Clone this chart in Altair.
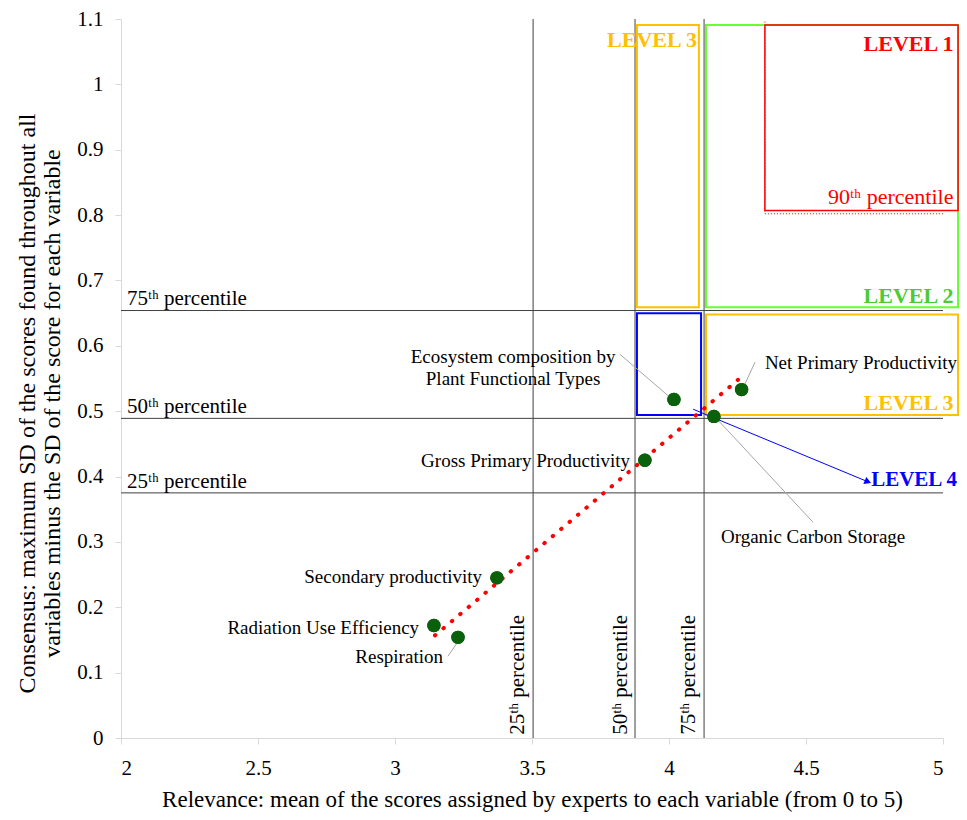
import altair as alt
import pandas as pd

FONT = "Liberation Serif"

# ---- data ----
var_names = ["Radiation Use Efficiency", "Respiration", "Secondary productivity",
             "Gross Primary Productivity", "Ecosystem composition by Plant Functional Types",
             "Organic Carbon Storage", "Net Primary Productivity"]
relevance = [3.142, 3.230, 3.372, 3.912, 4.018, 4.164, 4.265]
consensus = [0.172, 0.154, 0.245, 0.425, 0.518, 0.492, 0.533]

# percentile lines
x_pct_vals = [3.504, 3.876, 4.128]
x_pct_labels = ["25ᵗʰ percentile", "50ᵗʰ percentile", "75ᵗʰ percentile"]
x_pct_label_x = [3.449, 3.825, 4.073]
y_pct_vals = [0.375, 0.489, 0.654]
y_pct_labels = ["25ᵗʰ percentile", "50ᵗʰ percentile", "75ᵗʰ percentile"]
y_pct_label_y = [0.392, 0.506, 0.671]

# trend line endpoints
trend_x = [3.146, 4.252]
trend_y = [0.157, 0.548]

# level boxes
box_x = [3.883, 3.883, 4.135, 4.135, 4.350]
box_x2 = [4.109, 4.117, 5.055, 5.055, 5.055]
box_y = [1.091, 0.650, 1.091, 0.648, 1.091]
box_y2 = [0.659, 0.494, 0.659, 0.494, 0.807]
box_color = ["#FFC000", "#0000FF", "#66FF33", "#FFC000", "#FF0000"]
box_width = [2, 2, 2, 2, 1.5]

# 90th percentile dotted lines
p90_x = [4.350, 4.350]
p90_x2 = [4.350, 5.0]
p90_y = [1.096, 0.802]
p90_y2 = [0.802, 0.802]

# level labels (right aligned)
lvl_text = ["LEVEL 1", "LEVEL 2", "LEVEL 3"]
lvl_x = [5.038, 5.038, 5.038]
lvl_y = [1.062, 0.676, 0.513]
lvl_color = ["#FF0000", "#4CCC33", "#FFC000"]
lvl4_text = ["LEVEL 4"]
lvl4_x = [5.051]
lvl4_y = [0.395]
lvl4_color = ["#0000FF"]
top_lvl_text = ["LEVEL 3"]
top_lvl_x = [3.938]
top_lvl_y = [1.068]
top_lvl_color = ["#FFC000"]
p90_text = ["90ᵗʰ percentile"]
p90_tx = [5.038]
p90_ty = [0.828]

# arrow
arrow_x = [4.088]
arrow_y = [0.503]
arrow_x2 = [4.726]
arrow_y2 = [0.392]

# leader lines
lead_x = [3.821, 4.314, 4.164, 3.193]
lead_y = [0.587, 0.575, 0.493, 0.125]
lead_x2 = [4.007, 4.270, 4.526, 3.226]
lead_y2 = [0.520, 0.535, 0.330, 0.145]

# point labels
lab_right_text = ["Radiation Use Efficiency", "Respiration", "Secondary productivity",
                  "Gross Primary Productivity"]
lab_right_x = [3.088, 3.175, 3.318, 3.858]
lab_right_y = [0.169, 0.124, 0.246, 0.424]
lab_center_text = [["Ecosystem composition by", "Plant Functional Types"], ["Organic Carbon Storage"]]
lab_center_x = [3.431, 4.526]
lab_center_y = [0.583, 0.307]
lab_left_text = ["Net Primary Productivity"]
lab_left_x = [4.350]
lab_left_y = [0.574]

x_ticks = [2, 2.5, 3, 3.5, 4, 4.5, 5]
y_ticks = [0, 0.1, 0.2, 0.3, 0.4, 0.5, 0.6, 0.7, 0.8, 0.9, 1, 1.1]

# ---- scales / axes ----
xs = alt.Scale(domain=[2, 5], nice=False, zero=False)
ys = alt.Scale(domain=[0, 1.1], nice=False, zero=False)
xaxis = alt.Axis(values=x_ticks, format="~g",
                 title="Relevance: mean of the scores assigned by experts to each variable (from 0 to 5)",
                 grid=False, tickSize=6, labelPadding=13, titlePadding=10, titleFontSize=23)
yaxis = alt.Axis(values=y_ticks, format="~g",
                 title=["Consensus: maximum SD of the scores found throughout all",
                        "variables minus the SD of the score for each variable"],
                 grid=False, tickSize=6, labelPadding=12, titlePadding=12, titleFontSize=24,
                 titleLineHeight=25, titleY=384)


def X(f):
    return alt.X(f, type="quantitative", scale=xs, axis=xaxis)


def Y(f):
    return alt.Y(f, type="quantitative", scale=ys, axis=yaxis)


pts = pd.DataFrame({"name": var_names, "x": relevance, "y": consensus})

vrules = alt.Chart(pd.DataFrame({"x": x_pct_vals})).mark_rule(color="#404040", strokeWidth=1).encode(x=X("x"))
hrules = alt.Chart(pd.DataFrame({"y": y_pct_vals})).mark_rule(color="#404040", strokeWidth=1).encode(y=Y("y"))

vlabels = alt.Chart(pd.DataFrame({"x": x_pct_label_x, "t": x_pct_labels, "y": [0.005] * 3})).mark_text(
    angle=270, align="left", baseline="middle", font=FONT, fontSize=21, color="black"
).encode(x=X("x"), y=Y("y"), text="t")
hlabels = alt.Chart(pd.DataFrame({"y": y_pct_label_y, "t": y_pct_labels, "x": [2.022] * 3})).mark_text(
    align="left", baseline="middle", font=FONT, fontSize=21, color="black"
).encode(x=X("x"), y=Y("y"), text="t")

boxes = alt.Chart(pd.DataFrame({"x": box_x, "x2": box_x2, "y": box_y, "y2": box_y2,
                                "c": box_color, "w": box_width})).mark_rect(fillOpacity=0).encode(
    x=X("x"), x2="x2", y=Y("y"), y2="y2",
    stroke=alt.Stroke("c:N", scale=None), strokeWidth=alt.StrokeWidth("w:Q", scale=None))

p90 = alt.Chart(pd.DataFrame({"x": p90_x, "x2": p90_x2, "y": p90_y, "y2": p90_y2})).mark_rule(
    color="#FF0000", strokeDash=[1, 2], strokeWidth=1).encode(x=X("x"), x2="x2", y=Y("y"), y2="y2")

trend = alt.Chart(pd.DataFrame({"x": trend_x, "y": trend_y})).mark_line(
    color="#FF0000", strokeWidth=4, strokeDash=[0.5, 10.5], strokeCap="round").encode(x=X("x"), y=Y("y"))

leads = alt.Chart(pd.DataFrame({"x": lead_x, "y": lead_y, "x2": lead_x2, "y2": lead_y2})).mark_rule(
    color="#A6A6A6", strokeWidth=1).encode(x=X("x"), x2="x2", y=Y("y"), y2="y2")

arrow_line = alt.Chart(pd.DataFrame({"x": arrow_x, "y": arrow_y, "x2": arrow_x2, "y2": arrow_y2})).mark_rule(
    color="#0000FF", strokeWidth=1).encode(x=X("x"), x2="x2", y=Y("y"), y2="y2")
arrow_head = alt.Chart(pd.DataFrame({"x": arrow_x2, "y": arrow_y2})).mark_point(
    shape="triangle-right", filled=True, color="#0000FF", size=60, angle=23, opacity=1).encode(x=X("x"), y=Y("y"))

points = alt.Chart(pts).mark_circle(color="#0B600B", size=180, opacity=1).encode(x=X("x"), y=Y("y"))

lab_r = alt.Chart(pd.DataFrame({"t": lab_right_text, "x": lab_right_x, "y": lab_right_y})).mark_text(
    align="right", baseline="middle", font=FONT, fontSize=19, color="black").encode(x=X("x"), y=Y("y"), text="t")
lab_c = alt.Chart(pd.DataFrame({"t": lab_center_text, "x": lab_center_x, "y": lab_center_y})).mark_text(
    align="center", baseline="middle", font=FONT, fontSize=19, color="black", lineHeight=22).encode(x=X("x"), y=Y("y"), text="t")
lab_l = alt.Chart(pd.DataFrame({"t": lab_left_text, "x": lab_left_x, "y": lab_left_y})).mark_text(
    align="left", baseline="middle", font=FONT, fontSize=19, color="black").encode(x=X("x"), y=Y("y"), text="t")

lvl = alt.Chart(pd.DataFrame({"t": lvl_text, "x": lvl_x, "y": lvl_y, "c": lvl_color})).mark_text(
    align="right", baseline="middle", font=FONT, fontSize=22, fontWeight="bold").encode(
    x=X("x"), y=Y("y"), text="t", color=alt.Color("c:N", scale=None))
lvl4 = alt.Chart(pd.DataFrame({"t": lvl4_text, "x": lvl4_x, "y": lvl4_y, "c": lvl4_color})).mark_text(
    align="right", baseline="middle", font=FONT, fontSize=21, fontWeight="bold").encode(
    x=X("x"), y=Y("y"), text="t", color=alt.Color("c:N", scale=None))
lvl_top = alt.Chart(pd.DataFrame({"t": top_lvl_text, "x": top_lvl_x, "y": top_lvl_y, "c": top_lvl_color})).mark_text(
    align="center", baseline="middle", font=FONT, fontSize=22, fontWeight="bold").encode(
    x=X("x"), y=Y("y"), text="t", color=alt.Color("c:N", scale=None))
p90_lab = alt.Chart(pd.DataFrame({"t": p90_text, "x": p90_tx, "y": p90_ty})).mark_text(
    align="right", baseline="middle", font=FONT, fontSize=22, color="#FF0000").encode(x=X("x"), y=Y("y"), text="t")

chart = alt.layer(
    points, vrules, hrules, p90, boxes, trend, leads, arrow_line, arrow_head,
    vlabels, hlabels, lab_r, lab_c, lab_l, lvl, lvl4, lvl_top, p90_lab,
    alt.Chart(pts).mark_circle(color="#0B600B", size=180, opacity=1).encode(x=X("x"), y=Y("y")),
).properties(
    width=822, height=719, autosize="none",
    padding={"left": 113, "top": 11, "right": 16, "bottom": 74},
).configure_axis(
    labelFont=FONT, labelFontSize=21, labelColor="black",
    titleFont=FONT, titleFontWeight="normal", titleColor="black",
    domainColor="#D9D9D9", tickColor="#D9D9D9",
).configure_view(stroke="transparent")

chart.save("out.html", embed_options={"renderer": "svg", "actions": False})
